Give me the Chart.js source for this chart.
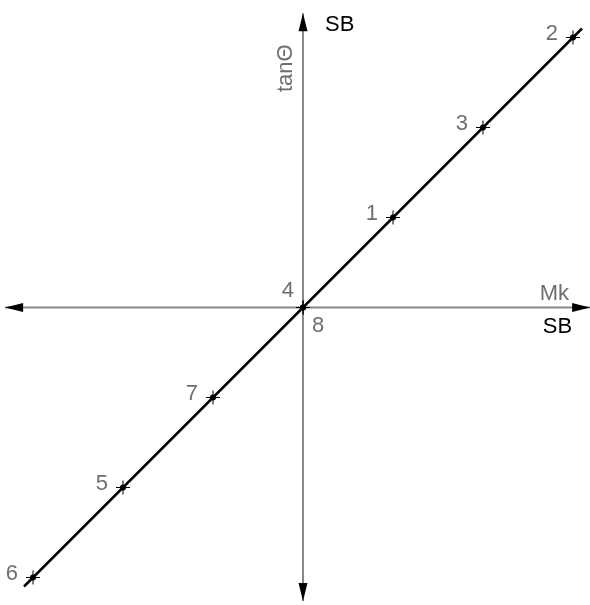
<!DOCTYPE html>
<html>
<head>
<meta charset="utf-8">
<script src="https://cdn.jsdelivr.net/npm/chart.js@4.4.0/dist/chart.umd.min.js"></script>
<style>
  html, body { margin: 0; padding: 0; background: #fff; overflow: hidden; }
  canvas { display: block; }
</style>
</head>
<body>
<canvas id="mkChart" width="590" height="605"></canvas>
<script>
// point data
const pointLabels = ['1', '2', '3', '4', '5', '6', '7', '8'];
const mkValues = [1, 3, 2, 0, -2, -3, -1, 0];
const tanValues = [1, 3, 2, 0, -2, -3, -1, 0];

// the fitted line runs a bit past the outer points
const lineMk = [-3.1, 3.1];
const lineTan = [-3.1, 3.1];

// axis extents (arrow tip to arrow tip)
const axisMk = [-3.31, 3.19];
const axisTan = [-3.26, 3.27];

const grey = '#6e6e6e';
const font = '22px "Liberation Sans", Arial, sans-serif';

function drawArrow(ctx, x, y, dx, dy) {
    const len = 18, half = 4.5;
    ctx.beginPath();
    ctx.moveTo(x, y);
    ctx.lineTo(x - dx * len - dy * half, y - dy * len + dx * half);
    ctx.lineTo(x - dx * len + dy * half, y - dy * len - dx * half);
    ctx.closePath();
    ctx.fillStyle = '#000';
    ctx.fill();
}

// cross axes with arrows on both ends
const axesPlugin = {
    id: 'axesPlugin',
    beforeDatasetsDraw(chart) {
        const ctx = chart.ctx;
        const xs = chart.scales.x, ys = chart.scales.y;
        const x0 = xs.getPixelForValue(0), y0 = ys.getPixelForValue(0);
        const xl = xs.getPixelForValue(axisMk[0]), xr = xs.getPixelForValue(axisMk[1]);
        const yb = ys.getPixelForValue(axisTan[0]), yt = ys.getPixelForValue(axisTan[1]);
        ctx.save();
        ctx.strokeStyle = '#888';
        ctx.lineWidth = 2;
        ctx.beginPath();
        ctx.moveTo(xl, y0); ctx.lineTo(xr, y0);
        ctx.moveTo(x0, yt); ctx.lineTo(x0, yb);
        ctx.stroke();
        drawArrow(ctx, xl, y0, -1, 0);
        drawArrow(ctx, xr, y0, 1, 0);
        drawArrow(ctx, x0, yt, 0, -1);
        drawArrow(ctx, x0, yb, 0, 1);

        // axis titles
        ctx.font = font;
        ctx.fillStyle = '#000';
        ctx.textAlign = 'left';
        ctx.textBaseline = 'alphabetic';
        ctx.fillText('SB', x0 + 22, yt + 18);
        ctx.textAlign = 'right';
        ctx.fillText('SB', xr - 18, y0 + 26);
        ctx.fillStyle = grey;
        ctx.fillText('Mk', xr - 21, y0 - 7);
        ctx.save();
        ctx.translate(x0 - 11, yt + 55);
        ctx.rotate(-Math.PI / 2);
        ctx.textAlign = 'center';
        ctx.fillText('tan\u0398', 0, 0);
        ctx.restore();
        ctx.restore();
    },
    afterDatasetsDraw(chart) {
        const ctx = chart.ctx;
        const meta = chart.getDatasetMeta(1);
        ctx.save();
        ctx.font = font;
        ctx.fillStyle = grey;
        ctx.textBaseline = 'middle';
        meta.data.forEach((pt, i) => {
            const lab = pointLabels[i];
            if (lab === '8') {
                ctx.textAlign = 'left';
                ctx.fillText(lab, pt.x + 9, pt.y + 18);
            } else if (lab === '4') {
                ctx.textAlign = 'right';
                ctx.fillText(lab, pt.x - 9, pt.y - 17);
            } else {
                ctx.textAlign = 'right';
                ctx.fillText(lab, pt.x - 15, pt.y - 4);
            }
        });
        ctx.restore();
    }
};

const pts = mkValues.map((v, i) => ({ x: v, y: tanValues[i] }));

new Chart('mkChart', {
    type: 'scatter',
    data: {
        datasets: [{
            type: 'line',
            data: lineMk.map((v, i) => ({ x: v, y: lineTan[i] })),
            borderColor: '#000',
            borderWidth: 2.5,
            pointRadius: 0,
            fill: false
        }, {
            data: pts,
            pointStyle: 'cross',
            pointRadius: 7,
            borderColor: '#000',
            borderWidth: 1
        }, {
            data: pts,
            pointStyle: 'circle',
            pointRadius: 3,
            backgroundColor: '#000',
            borderColor: '#000',
            borderWidth: 0
        }]
    },
    options: {
        responsive: false,
        animation: false,
        layout: { padding: 0, autoPadding: false },
        plugins: {
            legend: { display: false },
            tooltip: { enabled: false }
        },
        scales: {
            x: { type: 'linear', display: false, min: -3.3667, max: 3.1889 },
            y: { type: 'linear', display: false, min: -3.3056, max: 3.4167 }
        }
    },
    plugins: [axesPlugin]
});
</script>
</body>
</html>
